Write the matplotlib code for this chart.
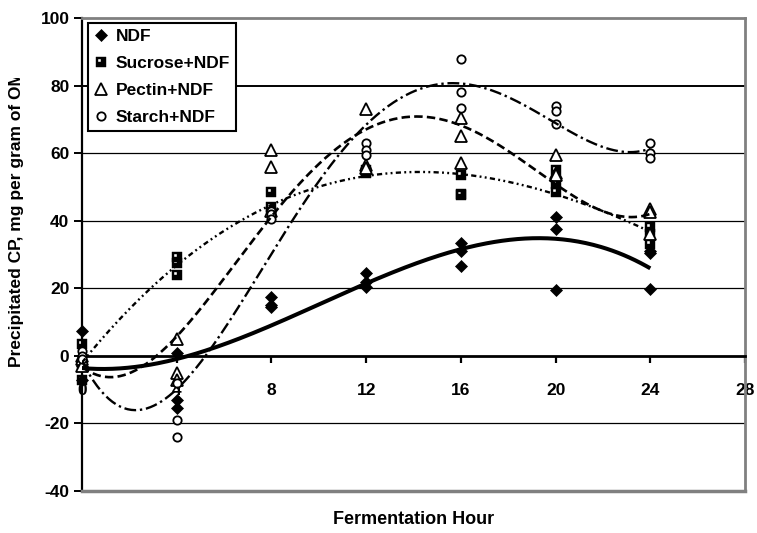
import numpy as np
import matplotlib
matplotlib.use('Agg')
import matplotlib.pyplot as plt
from matplotlib.path import Path
from matplotlib.lines import Line2D
from matplotlib.transforms import Bbox

plt.rcParams['font.family'] = ['Liberation Sans', 'DejaVu Sans']
plt.rcParams['font.weight'] = 'bold'

# ---------------- data ----------------
hours = [0, 4, 8, 12, 16, 20, 24]
x_ticks = [0, 4, 8, 12, 16, 20, 24, 28]
y_ticks = [-40, -20, 0, 20, 40, 60, 80, 100]

ndf = [[7.5, -3, -7], [0.8, -13, -15.5], [17.5, 15, 14.5], [24.5, 22, 20.5],
       [33.5, 31, 26.5], [41, 37.5, 19.5], [31, 30.5, 19.8]]
sucrose_ndf = [[3.5, -3, -7], [29.3, 27.5, 24], [48.5, 44, 42.5], [55, 54.5, 54],
               [53.5, 48, 47.5], [55, 51, 48.5], [38, 36, 33]]
pectin_ndf = [[0, -1, -3], [5, -5, -7], [61, 56, 43], [73, 56.5, 55.5],
              [70.5, 65, 57], [59.5, 54, 53.5], [43.5, 42.5, 36]]
starch_ndf = [[1.3, 0, -1], [-8, -19, -24], [43, 42, 40.5], [63, 61, 59.5],
              [88, 78, 73.5], [74, 72.5, 68.5], [63, 60, 58.5]]

labels = ['NDF', 'Sucrose+NDF', 'Pectin+NDF', 'Starch+NDF']
series = [ndf, sucrose_ndf, pectin_ndf, starch_ndf]
trend_orders = [3, 3, 4, 4]

# ---------------- figure ----------------
W, H = 757, 533
fig = plt.figure(figsize=(W / 100, H / 100), dpi=100)
L, R, T, B = 82, 745, 18, 491
ax = fig.add_axes([L / W, 1 - B / H, (R - L) / W, (B - T) / H])
ax.set_xlim(0, 28)
ax.set_ylim(-40, 100)

# sucrose marker: black square with white notch (hole) in upper-left
outer = [(-1, -1), (1, -1), (1, 1), (-1, 1), (-1, -1)]
inner = [(-0.7, -0.05), (-0.7, 0.7), (0.05, 0.7), (0.05, -0.05), (-0.7, -0.05)]
verts = outer + inner
codes = ([Path.MOVETO] + [Path.LINETO] * 3 + [Path.CLOSEPOLY]) * 2
sq_marker = Path(verts, codes)

styles = [
    dict(marker='D', ms=6.2, mfc='black', mec='black', mew=0.5),
    dict(marker=sq_marker, ms=6.5, mfc='black', mec='black', mew=0.3),
    dict(marker='^', ms=8.0, mfc='white', mec='black', mew=1.3),
    dict(marker='o', ms=6.0, mfc='white', mec='black', mew=1.3),
]
line_styles = [
    dict(lw=2.9, ls='-'),
    dict(lw=1.7, ls=(0, (2.2, 1.4, 0.8, 1.4, 0.8, 1.4))),
    dict(lw=1.9, ls=(0, (3.2, 1.6))),
    dict(lw=1.7, ls=(0, (5, 1.6, 1, 1.6))),
]

# gridlines
for yv in [-20, 20, 40, 60]:
    ax.axhline(yv, color='black', lw=0.9, zorder=1)
ax.axhline(80, color='black', lw=1.4, zorder=1)

xfit = np.linspace(0, 24, 300)
handles = []
for vals, st, ls, lab, order in zip(series, styles, line_styles, labels,
                                    trend_orders):
    xs = np.repeat(hours, [len(v) for v in vals])
    ys = np.concatenate([np.array(v, float) for v in vals])
    ax.plot(xs, ys, ls='none', zorder=4, clip_on=False, **st)
    coef = np.polyfit(xs, ys, order)
    ax.plot(xfit, np.polyval(coef, xfit), color='black', zorder=5,
            solid_capstyle='butt', dash_capstyle='butt', **ls)
    handles.append(Line2D([], [], ls='none', label=lab, **st))

# spines / frame
ax.spines['bottom'].set_position(('data', 0))
ax.spines['bottom'].set_linewidth(2.0)
ax.spines['left'].set_linewidth(1.6)
for s in ['top', 'right']:
    ax.spines[s].set_color('#808080')
    ax.spines[s].set_linewidth(2.0)
ax.axhline(-40, color='#808080', lw=2.5, zorder=6, clip_on=False)

ax.set_xticks(x_ticks)
ax.set_xticklabels([str(v) for v in x_ticks])
ax.set_yticks(y_ticks)
ax.set_yticklabels([str(v) for v in y_ticks])
ax.tick_params(axis='x', direction='out', length=5, width=1.6, pad=14.5,
               labelsize=12.5)
ax.tick_params(axis='y', direction='out', length=6, width=1.4, pad=3,
               labelsize=12.5)
ax.xaxis.set_zorder(2)

leg = ax.legend(handles=handles, loc='upper left',
                bbox_to_anchor=(0.009, 0.99), fontsize=12.5,
                frameon=True, fancybox=False, framealpha=1,
                edgecolor='black', handlelength=0.8, handletextpad=0.45,
                labelspacing=0.68, borderpad=0.35, borderaxespad=0)
leg.get_frame().set_linewidth(1.5)
leg.set_zorder(10)

fig.text((L + R) / 2 / W, 1 - 520 / H, 'Fermentation Hour', ha='center',
         va='center', fontsize=13, fontweight='bold')
yl = fig.text(17 / W, 1 - 367 / H, 'Precipitated CP, mg per gram of OM',
              rotation=90, ha='center', va='bottom', fontsize=12.5,
              fontweight='bold')
yl.set_clip_box(Bbox([[0, 0], [40, H - 78]]))
yl.set_clip_on(True)

fig.savefig('out.png', dpi=100)
